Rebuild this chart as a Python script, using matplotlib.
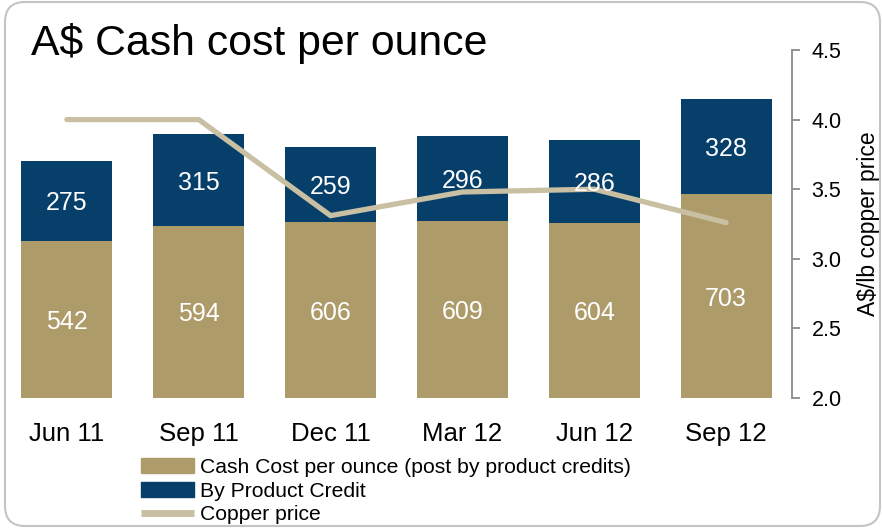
import matplotlib
matplotlib.use("Agg")
import matplotlib.pyplot as plt
from matplotlib.patches import Patch, FancyBboxPatch
from matplotlib.lines import Line2D
import numpy as np

plt.rcParams['font.family'] = ['Liberation Sans', 'DejaVu Sans']

quarters = ["Jun 11", "Sep 11", "Dec 11", "Mar 12", "Jun 12", "Sep 12"]
cash_cost = [542, 594, 606, 609, 604, 703]
by_product = [275, 315, 259, 296, 286, 328]
copper_price = [4.00, 4.00, 3.31, 3.48, 3.50, 3.26]

tan = '#AE9B6A'
navy = '#073F6B'
copper_col = '#C9BFA2'

fig = plt.figure(figsize=(8.82, 5.28), dpi=100)
W, H = 882, 528

# rounded frame round the whole slide
frame = FancyBboxPatch((5 / 100, 2 / 100), 875 / 100, 524 / 100,
                       boxstyle="round,pad=0,rounding_size=0.2",
                       transform=fig.dpi_scale_trans, fill=False,
                       edgecolor='#C4C4C4', linewidth=1.5)
fig.patches.append(frame)

ax = fig.add_axes([1 / W, 1 - 398 / H, 791 / W, 348 / H])
x = np.arange(len(quarters))
bw = 0.69
ax.bar(x, cash_cost, bw, color=tan, zorder=2)
ax.bar(x, by_product, bw, bottom=cash_cost, color=navy, zorder=2)
ax.set_xlim(-0.5, 5.5)
ax.set_ylim(0, 1200)
ax.set_yticks([])
for s in ax.spines.values():
    s.set_visible(False)
ax.set_xticks(x)
ax.set_xticklabels(quarters, fontsize=18.5)
ax.tick_params(axis='x', length=0, pad=17)

ax2 = ax.twinx()
ax2.plot(x, copper_price, color=copper_col, linewidth=3.8,
         solid_capstyle='round', solid_joinstyle='miter', zorder=3)
ax2.set_ylim(2.0, 4.5)
ax2.set_yticks(np.arange(2.0, 4.51, 0.5))
ax2.set_yticklabels(['%.1f' % v for v in np.arange(2.0, 4.51, 0.5)], fontsize=15.5)
for k in ['top', 'left', 'bottom']:
    ax2.spines[k].set_visible(False)
ax2.spines['right'].set_color('#8A8A8A')
ax2.spines['right'].set_linewidth(1.3)
ax2.tick_params(axis='y', length=6, width=1.3, color='#8A8A8A', pad=8)
ax2.set_ylabel("A$/lb copper price", fontsize=16.5, labelpad=11)

# value labels on top of everything
for i in range(len(quarters)):
    ax2.text(x[i], cash_cost[i] / 2, str(cash_cost[i]), transform=ax.transData,
             ha='center', va='center_baseline', color='white', fontsize=18, zorder=5)
    ax2.text(x[i], cash_cost[i] + by_product[i] / 2, str(by_product[i]),
             transform=ax.transData, ha='center', va='center_baseline',
             color='white', fontsize=18, zorder=5)

fig.text(31 / W, 1 - 43 / H, "A$ Cash cost per ounce", fontsize=30.8,
         va='center', ha='left')

handles = [Patch(color=tan), Patch(color=navy),
           Line2D([0], [0], color=copper_col, linewidth=5, solid_capstyle='butt')]
labels = ["Cash Cost per ounce (post by product credits)", "By Product Credit",
          "Copper price"]
fig.legend(handles, labels, loc='upper left', bbox_to_anchor=(141 / W, 1 - 458 / H),
           frameon=False, fontsize=15.2, handlelength=2.5, handletextpad=0.3,
           labelspacing=0.22, borderpad=0, borderaxespad=0)

fig.savefig("out.png", dpi=100)
